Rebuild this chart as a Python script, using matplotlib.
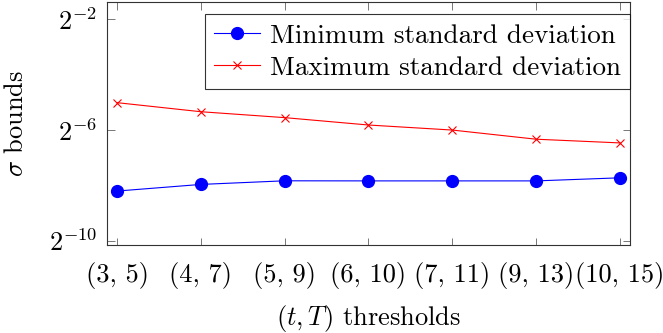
import matplotlib
matplotlib.use("Agg")
import matplotlib.pyplot as plt

# (t, T) threshold pairs on the x axis
thresholds = ["(3, 5)", "(4, 7)", "(5, 9)", "(6, 10)", "(7, 11)", "(9, 13)", "(10, 15)"]

# sigma bounds
min_std = [0.00338, 0.00399, 0.00437, 0.00436, 0.00436, 0.00436, 0.00471]
max_std = [0.0310, 0.0247, 0.0213, 0.0177, 0.0156, 0.0124, 0.0113]

ytick_vals = [2.0**-2, 2.0**-6, 2.0**-10]
ytick_labels = [r"$2^{-2}$", r"$2^{-6}$", r"$2^{-10}$"]

plt.rcParams["font.family"] = "cmr10"
plt.rcParams["mathtext.fontset"] = "cm"
plt.rcParams["axes.formatter.use_mathtext"] = True

fig = plt.figure(figsize=(6.63, 3.33), dpi=100)
ax = fig.add_axes([0.1614, 0.2643, 0.7888, 0.7297])

x = list(range(len(thresholds)))
ax.plot(x, min_std, color="#0000ff", lw=0.8, marker="o", ms=8.5,
        label="Minimum standard deviation")
ax.plot(x, max_std, color="#ff0000", lw=0.8, marker="x", ms=5.5, mew=0.8,
        label="Maximum standard deviation")

ax.set_yscale("log", base=2)
ax.set_ylim(2.0**-10.16, 2.0**-1.37)
ax.set_xlim(-0.12, 6.12)
ax.set_yticks(ytick_vals)
ax.set_yticklabels(ytick_labels)
ax.minorticks_off()
ax.set_xticks(x)
ax.set_xticklabels(thresholds)

ax.tick_params(direction="in", length=5.4, width=0.7, color="#777777",
               top=True, right=True, labelsize=19)
ax.tick_params(axis="x", pad=12.5)
ax.tick_params(axis="y", pad=7)
for s in ax.spines.values():
    s.set_linewidth(0.8)
    s.set_color("#333333")

ax.set_xlabel(r"$(t, T)$ thresholds", fontsize=19, labelpad=10)
ax.set_ylabel(r"$\sigma$ bounds", fontsize=19, labelpad=15)

leg = ax.legend(loc="upper right", bbox_to_anchor=(1.0, 0.95), fontsize=19.5,
                frameon=True, fancybox=False, borderaxespad=0,
                handlelength=1.7, handletextpad=0.35, labelspacing=0.3,
                borderpad=0.35)
leg.get_frame().set_edgecolor("black")
leg.get_frame().set_linewidth(0.8)

fig.savefig("out.png", dpi=100)
